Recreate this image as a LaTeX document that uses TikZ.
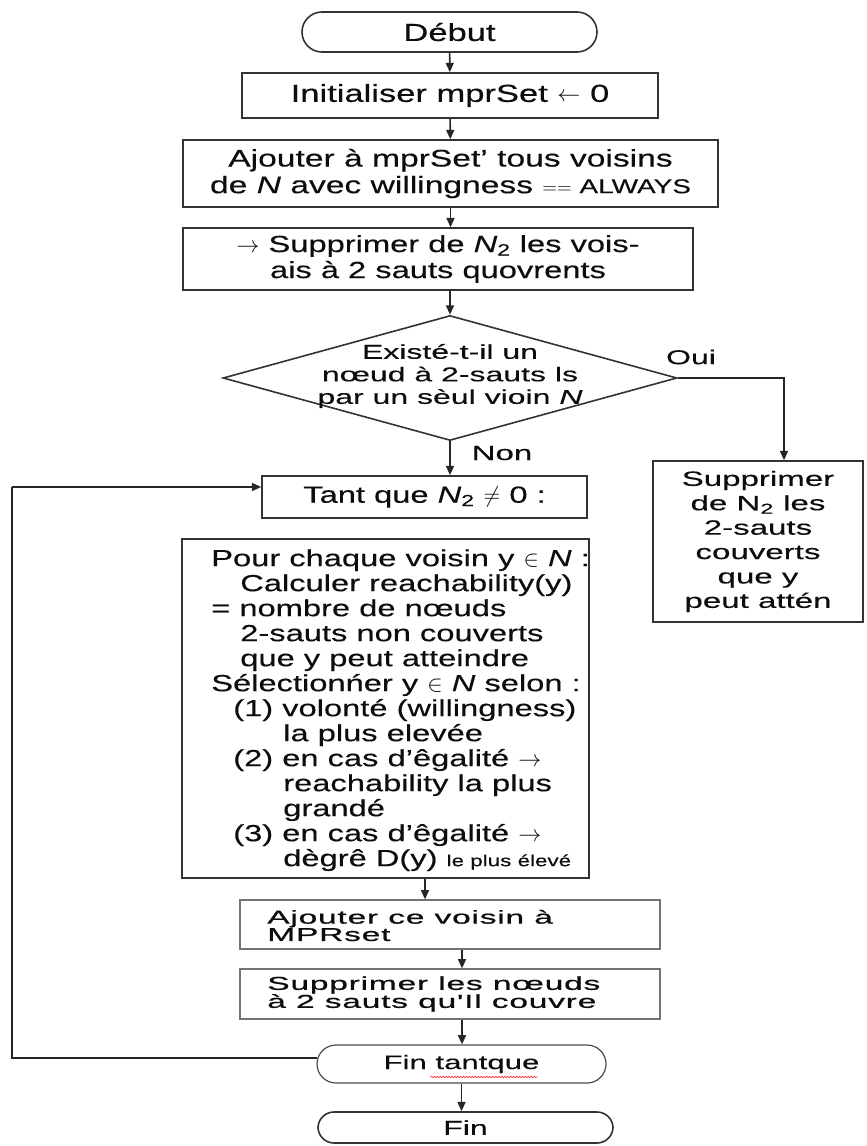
\documentclass[tikz,border=0pt]{standalone}
\usepackage{fontspec}
\setmainfont{Liberation Sans}[FakeStretch=1.4,FakeBold=0.3]
\newfontfamily\widefont{Liberation Sans}[FakeStretch=1.6,FakeBold=0.3]
\newfontfamily\heavyfont{Liberation Sans}[FakeStretch=1.8,FakeBold=0.8,LetterSpace=4]
\usetikzlibrary{arrows.meta,calc,shapes.geometric,decorations.pathmorphing}
\newcommand\setfs[2]{\fontsize{#1}{#2}\selectfont}

\begin{document}
\begin{tikzpicture}[x=0.75pt,y=-0.75pt,
  % a box given by its left, top, right and bottom edges (in picture units)
  frame/.style n args={4}{minimum width={(#3-#1)*0.75pt}, minimum height={(#4-#2)*0.75pt},
      at={({(#1+#3)/2},{(#2+#4)/2})}},
  ink/.style={draw=black!80, line width=1.2pt},
  blk/.style={ink, inner sep=0pt, align=center, text=black!95},
  softblk/.style={draw=black!55, line width=0.9pt, inner sep=0pt},
  txt/.style={inner sep=0pt, text=black!95},
  arr/.style={draw=black!85, line width=1.2pt, -{Triangle[length=7pt,width=6pt]}},
  wire/.style={draw=black!85, line width=1.2pt}]

\useasboundingbox (0,0) rectangle (867,1146);

% main column
\node[blk, rounded corners=15pt, frame={302}{12}{597}{52}, font=\setfs{18.5}{20}] (debut) {Début};
\node[blk, frame={242}{73}{658}{118}, font=\setfs{18.5}{20}] (init) {Initialiser mprSet $\leftarrow$ 0};
\node[blk, frame={183}{140}{718}{207}, font=\setfs{18}{20}] (ajall)
  {Ajouter à mprSet' tous voisins\\de \textit{N} avec willingness {\setfs{15}{16}$==$ ALWAYS}};
\node[blk, frame={183}{228}{693}{290}, font=\setfs{17.5}{19.5}] (suppn)
  {$\rightarrow$ Supprimer de \textit{N}\textsubscript{2} les vois-\\ais à 2 sauts quovrents};

% decision
\node[diamond, ink, inner sep=0pt, minimum width=340.5pt, minimum height=93.75pt] (dia) at (450,378) {};
\node[txt, align=center, font=\widefont\setfs{15}{16.9}] (diatxt) at (450,376)
  {Existé-t-il un\\nœud à 2-sauts ls\\par un sèul vioin \textit{N}};
\node[txt, font=\widefont\setfs{15}{16}] (oui) at (691,357) {Oui};
\node[txt, font=\widefont\setfs{15.5}{16}] (non) at (502,453) {Non};

% branch "Oui"
\node[blk, frame={653}{461}{863}{622}, font=\widefont\setfs{15.5}{18.3}] (rbox)
  {Supprimer\\de N\textsubscript{2} les\\2-sauts\\couverts\\que y\\peut attén};

% loop body
\node[blk, frame={262}{476}{587}{518}, font=\setfs{17.5}{19}] (tant) {Tant que \textit{N}\textsubscript{2} $\neq$ 0 :};
\node[blk, frame={182}{539}{589}{878}] (pour) {};
\node[txt, anchor=north west, align=left, font=\setfs{17.5}{18.75}] (pourtxt) at (211,549)
  {Pour chaque voisin y $\in$ \textit{N} :\\
   \hspace*{21.75pt}Calculer reachability(y)\\
   = nombre de nœuds\\
   \hspace*{21.75pt}2-sauts non couverts\\
   \hspace*{21.75pt}que y peut atteindre\\
   Sélectionńer y $\in$ \textit{N} selon :\\
   \hspace*{16.5pt}(1) volonté (willingness)\\
   \hspace*{54pt}la plus elevée\\
   \hspace*{16.5pt}(2) en cas d'êgalité $\rightarrow$\\
   \hspace*{54pt}reachability la plus\\
   \hspace*{54pt}grandé\\
   \hspace*{16.5pt}(3) en cas d'êgalité $\rightarrow$\\
   \hspace*{54pt}dègrê D(y) {\setfs{12}{13}le plus élevé}};

\node[softblk, frame={240}{900}{660}{949}] (ajout) {};
\node[txt, anchor=west, align=left, font=\heavyfont\setfs{14}{13}] (ajouttxt) at (267,925.5)
  {Ajouter ce voisin à\\MPRset};
\node[softblk, frame={240}{969}{660}{1019}] (supp) {};
\node[txt, anchor=west, align=left, font=\heavyfont\setfs{14}{13.5}] (supptxt) at (267,994)
  {Supprimer les nœuds\\à 2 sauts qu'Il couvre};

\node[softblk, draw=black!70, rounded corners=14.25pt, frame={317}{1045}{606}{1083},
      font=\widefont\setfs{14.6}{16}, text=black!95] (fintq) {Fin tantque};
\draw[red!80, line width=0.5pt, decorate, decoration={snake, amplitude=0.6pt, segment length=2.2pt}]
  ($(fintq.center)+(-31,13)$) -- ($(fintq.center)+(76,13)$);
\node[blk, rounded corners=12pt, frame={318}{1112}{613}{1143}, font=\widefont\setfs{15}{16}] (fin) {Fin};

% connectors
\draw[arr] (debut) -- (init);
\draw[arr] (init) -- (ajall);
\draw[arr] (ajall.south) -- (ajall.south |- suppn.north);
\draw[arr] (suppn.south -| dia.north) -- (dia.north);
\draw[arr] (dia.south) -- (dia.south |- tant.north);
\draw[arr] (dia.east) -| ($(rbox.north)+(26,0)$);
\coordinate (loopA) at (12,1058);
\coordinate (loopB) at (12,487);
\draw[wire] ($(fintq.west)+(1,-6)$) -- (loopA) -- (loopB);
\draw[arr] (loopB) -- (loopB -| tant.west);
\draw[arr] ($(pour.south)+(39.5,0)$) coordinate (pa) -- (pa |- ajout.north);
\draw[arr] ($(ajout.south)+(12,0)$) coordinate (pb) -- (pb |- supp.north);
\draw[arr] ($(supp.south)+(12,0)$) coordinate (pc) -- (pc |- fintq.north);
\draw[arr] (fintq.south) -- (fintq.south |- fin.north);
\end{tikzpicture}
\end{document}
